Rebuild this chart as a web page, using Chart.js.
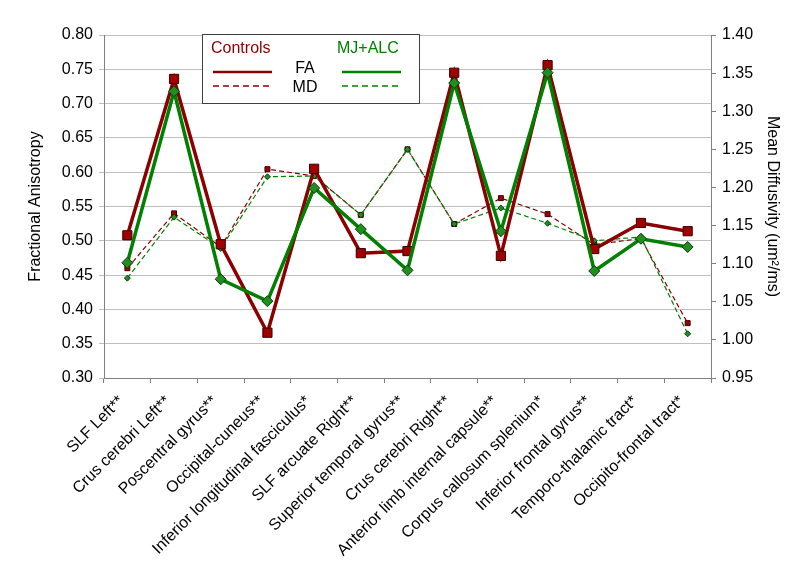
<!DOCTYPE html>
<html>
<head>
<meta charset="utf-8">
<script src="https://cdn.jsdelivr.net/npm/chart.js@4.4.1/dist/chart.umd.min.js"></script>
<style>
  html, body { margin: 0; padding: 0; background: #fff; }
  #wrap { width: 800px; height: 576px; }
</style>
</head>
<body>
<div id="wrap"><canvas id="chart" width="800" height="576"></canvas></div>
<script>
var regions = [
    'SLF Left**', 'Crus cerebri Left**', 'Poscentral gyrus**', 'Occipital-cuneus**',
    'Inferior longitudinal fasciculus*', 'SLF arcuate Right**', 'Superior temporal gyrus**',
    'Crus cerebri Right**', 'Anterior limb internal capsule**', 'Corpus callosum splenium*',
    'Inferior frontal gyrus**', 'Temporo-thalamic tract*', 'Occipito-frontal tract*'
];

// fractional anisotropy (left axis)
var fa_controls = [0.508, 0.736, 0.495, 0.366, 0.605, 0.482, 0.485, 0.745, 0.478, 0.756, 0.488, 0.526, 0.514];
var fa_mjalc    = [0.468, 0.718, 0.444, 0.412, 0.577, 0.517, 0.457, 0.730, 0.514, 0.745, 0.456, 0.503, 0.491];

// mean diffusivity (right axis)
var md_controls = [1.094, 1.166, 1.122, 1.224, 1.215, 1.164, 1.250, 1.152, 1.186, 1.165, 1.125, 1.133, 1.022];
var md_mjalc    = [1.081, 1.161, 1.120, 1.214, 1.215, 1.164, 1.250, 1.152, 1.173, 1.153, 1.130, 1.135, 1.008];

var RED = '#8b0000';
var GREEN = '#008000';
var FONT = '"Liberation Sans", Arial, sans-serif';

Chart.defaults.font.family = FONT;
Chart.defaults.color = '#000';

// the boxed legend of the original, drawn by hand
var legendBox = {
    id: 'legendBox',
    afterDraw: function(chart) {
        var ctx = chart.ctx;
        ctx.save();
        ctx.fillStyle = '#fff';
        ctx.fillRect(202, 34, 217, 69);
        ctx.strokeStyle = '#404040';
        ctx.lineWidth = 1;
        ctx.strokeRect(202.5, 34.5, 217, 69);

        ctx.font = '16px ' + FONT;
        ctx.textBaseline = 'alphabetic';
        ctx.textAlign = 'left';
        ctx.fillStyle = RED;
        ctx.fillText('Controls', 211, 53);
        ctx.fillStyle = GREEN;
        ctx.fillText('MJ+ALC', 337, 53);

        ctx.fillStyle = '#000';
        ctx.textAlign = 'center';
        ctx.fillText('FA', 305, 73);
        ctx.fillText('MD', 305, 92);

        function seg(color, x0, x1, y, w, dash) {
            ctx.beginPath();
            ctx.strokeStyle = color;
            ctx.lineWidth = w;
            ctx.setLineDash(dash);
            ctx.moveTo(x0, y);
            ctx.lineTo(x1, y);
            ctx.stroke();
        }
        seg(RED, 213, 272, 72, 2.5, []);
        seg(RED, 213, 272, 86, 1.5, [6, 4]);
        seg(GREEN, 342, 401, 72, 2.5, []);
        seg(GREEN, 342, 401, 86, 1.5, [6, 4]);
        ctx.restore();
    }
};

var config = {
    type: 'line',
    data: {
        labels: regions,
        datasets: [{
            label: 'FA MJ+ALC',
            data: fa_mjalc,
            yAxisID: 'y',
            borderColor: GREEN,
            borderWidth: 3.5,
            pointStyle: 'rectRot',
            pointRadius: 5.5,
            pointBackgroundColor: '#1f8f1f',
            pointBorderColor: '#0a3a0a',
            pointBorderWidth: 1
        }, {
            label: 'FA Controls',
            data: fa_controls,
            yAxisID: 'y',
            borderColor: RED,
            borderWidth: 3.5,
            pointStyle: 'rect',
            pointRadius: 6.5,
            pointBackgroundColor: '#a00000',
            pointBorderColor: '#3a0000',
            pointBorderWidth: 1
        }, {
            label: 'MD MJ+ALC',
            data: md_mjalc,
            yAxisID: 'y1',
            borderColor: GREEN,
            borderWidth: 1.2,
            borderDash: [5, 3],
            pointStyle: 'rectRot',
            pointRadius: 3,
            pointBackgroundColor: '#1f8f1f',
            pointBorderColor: '#0a3a0a',
            pointBorderWidth: 1
        }, {
            label: 'MD Controls',
            data: md_controls,
            yAxisID: 'y1',
            borderColor: RED,
            borderWidth: 1.2,
            borderDash: [5, 3],
            pointStyle: 'rect',
            pointRadius: 3.5,
            pointBackgroundColor: '#a00000',
            pointBorderColor: '#3a0000',
            pointBorderWidth: 1
        }]
    },
    options: {
        responsive: false,
        animation: false,
        layout: { padding: { top: 35, left: 0, right: 0, bottom: 0 } },
        elements: { line: { tension: 0 } },
        plugins: {
            legend: { display: false },
            tooltip: { enabled: false }
        },
        scales: {
            x: {
                offset: true,
                grid: {
                    offset: true,
                    drawOnChartArea: false,
                    color: '#808080',
                    tickLength: 5
                },
                border: { color: '#808080', width: 1 },
                ticks: {
                    autoSkip: false,
                    minRotation: 45,
                    maxRotation: 45,
                    padding: 9,
                    labelOffset: -6,
                    font: { size: 16 }
                },
                afterFit: function(scale) { scale.height = 198; }
            },
            y: {
                position: 'left',
                min: 0.30,
                max: 0.80,
                grid: { color: '#c0c0c0', tickLength: 5 },
                border: { color: '#808080' },
                ticks: {
                    stepSize: 0.05,
                    padding: 6,
                    font: { size: 16 },
                    callback: function(v) { return v.toFixed(2); }
                },
                title: {
                    display: true,
                    text: 'Fractional Anisotropy',
                    font: { size: 16 },
                    padding: { top: 26, bottom: 0 }
                },
                afterFit: function(scale) { scale.width = 104; }
            },
            y1: {
                position: 'right',
                min: 0.95,
                max: 1.40,
                grid: { drawOnChartArea: false, color: '#808080', tickLength: 5 },
                border: { color: '#808080' },
                ticks: {
                    stepSize: 0.05,
                    padding: 6,
                    font: { size: 16 },
                    callback: function(v) { return v.toFixed(2); }
                },
                title: {
                    display: true,
                    text: 'Mean Diffusivity (um\u00b2/ms)',
                    font: { size: 16 },
                    padding: { top: 18, bottom: 0 }
                },
                afterFit: function(scale) { scale.width = 89; }
            }
        }
    },
    plugins: [legendBox]
};

var chart = new Chart(document.getElementById('chart'), config);
</script>
</body>
</html>
